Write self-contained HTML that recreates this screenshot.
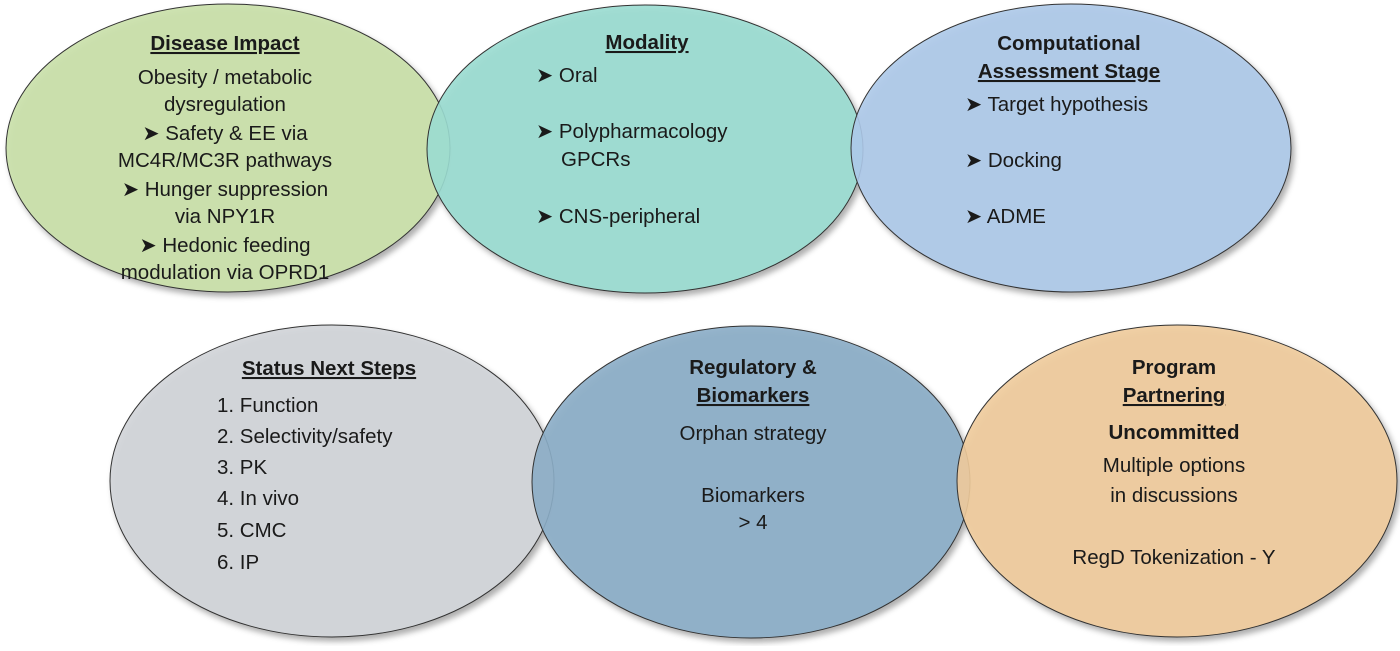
<!DOCTYPE html>
<html><head><style>
body{margin:0;background:#fff}
svg text{font-family:"Liberation Sans",Arial,sans-serif;font-size:20.5px;fill:#1a1a1a}
.b{font-weight:bold}
.u{text-decoration:underline}
</style></head><body>
<svg width="1400" height="646" viewBox="0 0 1400 646" xmlns="http://www.w3.org/2000/svg">
<defs><filter id="s" x="-10%" y="-10%" width="125%" height="125%"><feDropShadow dx="3" dy="4" stdDeviation="3" flood-color="#000" flood-opacity="0.35"/></filter></defs>
<g stroke="#333" stroke-width="1" filter="url(#s)">
<ellipse cx="228" cy="148" rx="222" ry="144" fill="#c9e0a8" fill-opacity="0.9"/>
<ellipse cx="645" cy="149" rx="218" ry="144" fill="#9adcd0" fill-opacity="0.9"/>
<ellipse cx="1071" cy="148" rx="220" ry="144" fill="#adc9e9" fill-opacity="0.9"/>
<ellipse cx="332" cy="481" rx="222" ry="156" fill="#d0d4d8" fill-opacity="0.9"/>
<ellipse cx="751" cy="482" rx="219" ry="156" fill="#8badc6" fill-opacity="0.9"/>
<ellipse cx="1177" cy="481" rx="220" ry="156" fill="#f0cb9b" fill-opacity="0.9"/>
</g>
<g text-anchor="middle">
<text x="225" y="50" class="b u">Disease Impact</text>
<text x="225" y="84">Obesity / metabolic</text>
<text x="225" y="111">dysregulation</text>
<text x="225" y="140">➤ Safety &amp; EE via</text>
<text x="225" y="167">MC4R/MC3R pathways</text>
<text x="225" y="196">➤ Hunger suppression</text>
<text x="225" y="223">via NPY1R</text>
<text x="225" y="252">➤ Hedonic feeding</text>
<text x="225" y="279">modulation via OPRD1</text>
<text x="647" y="49" class="b u">Modality</text>
<text x="1069" y="50" class="b">Computational</text>
<text x="1069" y="78" class="b u">Assessment Stage</text>
<text x="329" y="375" class="b u">Status Next Steps</text>
<text x="753" y="374" class="b">Regulatory &amp;</text>
<text x="753" y="402" class="b u">Biomarkers</text>
<text x="753" y="440">Orphan strategy</text>
<text x="753" y="502">Biomarkers</text>
<text x="753" y="529">&gt; 4</text>
<text x="1174" y="374" class="b">Program</text>
<text x="1174" y="402" class="b u">Partnering</text>
<text x="1174" y="439" class="b">Uncommitted</text>
<text x="1174" y="472">Multiple options</text>
<text x="1174" y="502">in discussions</text>
<text x="1174" y="564">RegD Tokenization - Y</text>
</g>
<g>
<text x="536" y="82">➤ Oral</text>
<text x="536" y="138">➤ Polypharmacology</text>
<text x="561" y="166">GPCRs</text>
<text x="536" y="223">➤ CNS-peripheral</text>
<text x="965" y="111">➤ Target hypothesis</text>
<text x="965" y="167">➤ Docking</text>
<text x="965" y="223">➤ ADME</text>
<text x="217" y="412">1. Function</text>
<text x="217" y="443">2. Selectivity/safety</text>
<text x="217" y="474">3. PK</text>
<text x="217" y="505">4. In vivo</text>
<text x="217" y="537">5. CMC</text>
<text x="217" y="569">6. IP</text>
</g>
</svg>
</body></html>
